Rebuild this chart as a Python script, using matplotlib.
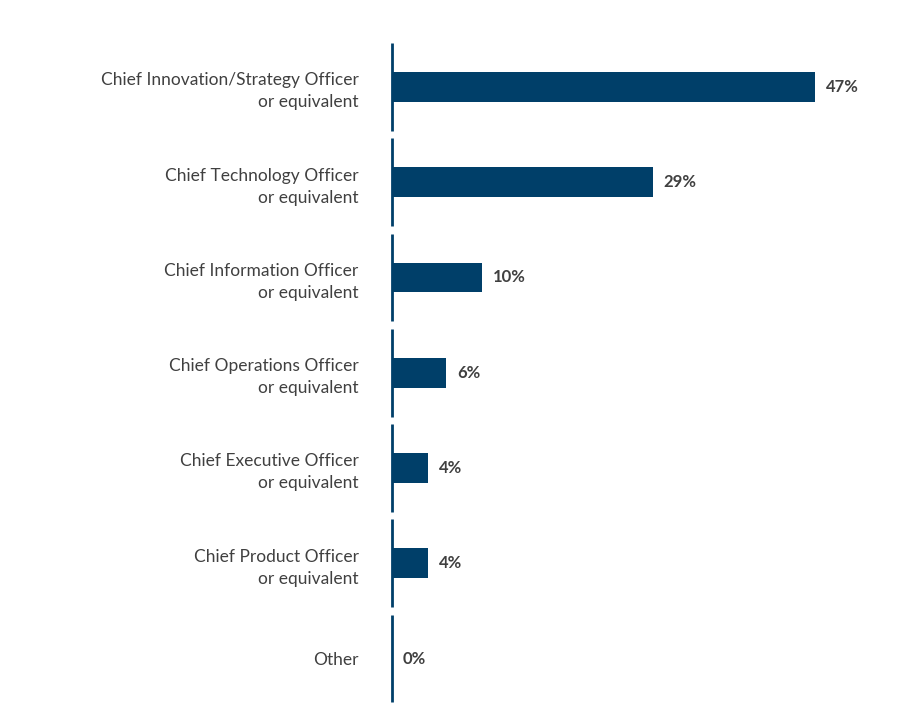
import matplotlib.pyplot as plt

plt.rcParams['font.family'] = ['Lato', 'DejaVu Sans']

categories = [
    "Chief Innovation/Strategy Officer\nor equivalent",
    "Chief Technology Officer\nor equivalent",
    "Chief Information Officer\nor equivalent",
    "Chief Operations Officer\nor equivalent",
    "Chief Executive Officer\nor equivalent",
    "Chief Product Officer\nor equivalent",
    "Other",
]
values = [47, 29, 10, 6, 4, 4, 0]

bar_color = "#003f69"
text_color = "#404040"

fig = plt.figure(figsize=(9, 7.28), dpi=100)
ax = fig.add_axes([0.4356, 0.030, 0.54, 0.916])

ypos = list(range(len(values)))
ax.barh(ypos, values, height=0.31, color=bar_color)
for y, v in zip(ypos, values):
    ax.text(v + 1.2, y, f"{v}%", va="center", ha="left", fontsize=12,
            fontweight="bold", color=text_color)
    # segmented axis line
    ax.plot([0, 0], [y - 0.46, y + 0.46], color=bar_color, lw=2,
            clip_on=False, solid_capstyle="butt")

ax.set_xlim(0, 54)
ax.set_ylim(6.5, -0.5)
ax.set_yticks(ypos)
ax.set_yticklabels(categories, fontsize=12.5, color=text_color,
                   ha="right", linespacing=1.45)
ax.tick_params(axis="y", length=0, pad=24)
ax.set_xticks([])
for s in ax.spines.values():
    s.set_visible(False)

fig.savefig("out.png", dpi=100)
